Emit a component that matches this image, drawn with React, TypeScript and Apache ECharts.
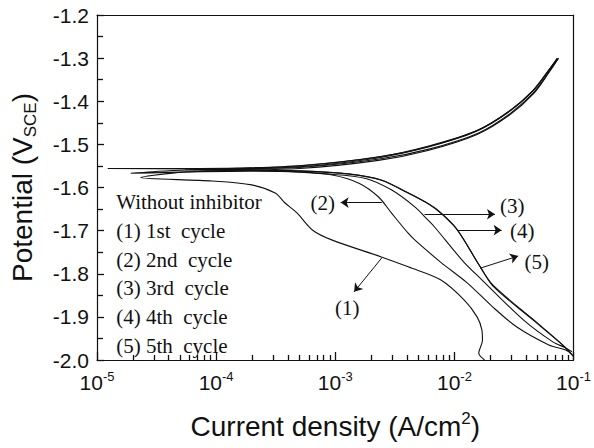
import React, { useEffect, useRef } from 'react';
import * as echarts from 'echarts';

type Pt = [number, number];

// Current density (A/cm2), potential (V vs SCE); cathodic branch from bottom-right up to Ecorr
const cathodic1: Pt[] = [
  [1.79e-2, -2.0], [1.6e-2, -1.984], [1.72e-2, -1.954], [1.7e-2, -1.93], [1.55e-2, -1.9],
  [1.21e-2, -1.861], [7.65e-3, -1.814], [4.09e-3, -1.784], [2.44e-3, -1.761], [9.44e-4, -1.722],
  [6.46e-4, -1.699], [4.77e-4, -1.659], [3.79e-4, -1.636], [3.13e-4, -1.613], [1.99e-4, -1.594],
  [9.27e-5, -1.585], [2.32e-5, -1.577],
];
const anodic1: Pt[] = [
  [2.32e-5, -1.577], [4.5e-5, -1.566], [1.0e-4, -1.561], [5.0e-4, -1.556], [2.3e-3, -1.537],
  [6.0e-3, -1.514], [1.55e-2, -1.477], [2.9e-2, -1.432], [4.6e-2, -1.383], [6.2e-2, -1.334], [7.4e-2, -1.302],
];
const cathodic2: Pt[] = [
  [9.8e-2, -1.988], [8.6e-2, -1.977], [6.2e-2, -1.965], [3.32e-2, -1.923], [2.06e-2, -1.875],
  [1.28e-2, -1.821], [7.65e-3, -1.773], [4.67e-3, -1.722], [4.09e-3, -1.706], [2.96e-3, -1.659],
  [2.31e-3, -1.622], [1.58e-3, -1.59], [9.44e-4, -1.571], [5.04e-4, -1.564], [1.95e-4, -1.562], [1.92e-5, -1.567],
];
const anodic2: Pt[] = [
  [1.92e-5, -1.567], [4.0e-5, -1.561], [1.0e-4, -1.558], [5.0e-4, -1.552], [2.2e-3, -1.532],
  [5.7e-3, -1.508], [1.5e-2, -1.471], [2.85e-2, -1.425], [4.55e-2, -1.376], [6.15e-2, -1.329], [7.3e-2, -1.3],
];
const cathodic3: Pt[] = [
  [9.7e-2, -1.981], [8.6e-2, -1.972], [6.7e-2, -1.958], [3.79e-2, -1.907], [1.7e-2, -1.814],
  [1.2e-2, -1.773], [6.79e-3, -1.691], [5.98e-3, -1.675], [4.65e-3, -1.645], [2.98e-3, -1.606],
  [1.8e-3, -1.579], [8.91e-4, -1.569], [1.95e-4, -1.559], [1.23e-5, -1.556],
];
const anodic3: Pt[] = [
  [1.23e-5, -1.556], [5.0e-5, -1.556], [1.5e-4, -1.555], [5.2e-4, -1.549], [2.4e-3, -1.528],
  [6.2e-3, -1.503], [1.6e-2, -1.466], [3.0e-2, -1.42], [4.7e-2, -1.372], [6.3e-2, -1.326], [7.5e-2, -1.3],
];
const cathodic4: Pt[] = [
  [9.9e-2, -1.991], [8.07e-2, -1.965], [4.56e-2, -1.907], [2.13e-2, -1.83], [1.65e-2, -1.784],
  [1.06e-2, -1.699], [7.71e-3, -1.66], [6.2e-3, -1.64], [4.09e-3, -1.613], [2.44e-3, -1.583],
  [1.31e-3, -1.569], [5.04e-4, -1.562], [5.5e-5, -1.559],
];
const anodic4: Pt[] = [
  [5.5e-5, -1.559], [1.2e-4, -1.557], [5.3e-4, -1.553], [2.35e-3, -1.534], [6.1e-3, -1.511],
  [1.58e-2, -1.474], [2.95e-2, -1.428], [4.65e-2, -1.379], [6.25e-2, -1.331], [7.4e-2, -1.302],
];
const cathodic5: Pt[] = [
  [9.5e-2, -1.985], [7.9e-2, -1.962], [4.45e-2, -1.903], [2.1e-2, -1.826], [1.62e-2, -1.781],
  [1.04e-2, -1.695], [7.6e-3, -1.657], [6.1e-3, -1.638], [4.0e-3, -1.611], [2.4e-3, -1.582],
  [1.28e-3, -1.568], [5.0e-4, -1.561], [6.5e-5, -1.558],
];
const anodic5: Pt[] = [
  [6.5e-5, -1.558], [1.4e-4, -1.556], [5.0e-4, -1.55], [2.25e-3, -1.53], [5.9e-3, -1.506],
  [1.52e-2, -1.469], [2.88e-2, -1.423], [4.6e-2, -1.374], [6.2e-2, -1.328], [7.35e-2, -1.301],
];

const SERIES_NAMES = ['1st cycle', '2nd cycle', '3rd cycle', '4th cycle', '5th cycle'];
const LEGEND_LINES = [
  'Without inhibitor',
  '(1) 1st \u00a0cycle',
  '(2) 2nd \u00a0cycle',
  '(3) 3rd \u00a0cycle',
  '(4) 4th \u00a0cycle',
  '(5) 5th \u00a0cycle',
];
const LEGEND_X = 1.45e-5;
const LEGEND_Y = [-1.633, -1.7, -1.768, -1.834, -1.901, -1.968];

// arrows: [fromX, fromY, toX, toY]
const ARROWS: [number, number, number, number][] = [
  [2.46e-3, -1.763, 1.44e-3, -1.842],
  [2.46e-3, -1.635, 1.11e-3, -1.635],
  [5.62e-3, -1.662, 2.19e-2, -1.662],
  [1.06e-2, -1.699, 2.49e-2, -1.699],
  [1.65e-2, -1.787, 3.43e-2, -1.759],
];
const ARROW_LABELS = ['(1)', '(2)', '(3)', '(4)', '(5)'];
const ARROW_LABEL_POS: Pt[] = [
  [1.26e-3, -1.88], [7.85e-4, -1.635], [3.06e-2, -1.643], [3.71e-2, -1.7], [4.92e-2, -1.773],
];

const X_MINOR_TICKS = [
  2e-5, 3e-5, 4e-5, 5e-5, 6e-5, 7e-5, 8e-5, 9e-5,
  2e-4, 3e-4, 4e-4, 5e-4, 6e-4, 7e-4, 8e-4, 9e-4,
  2e-3, 3e-3, 4e-3, 5e-3, 6e-3, 7e-3, 8e-3, 9e-3,
  2e-2, 3e-2, 4e-2, 5e-2, 6e-2, 7e-2, 8e-2, 9e-2,
];

const SANS = 'Liberation Sans';
const SERIF = 'Liberation Serif';
const INK = '#111';

export default function App() {
  const ref = useRef<HTMLDivElement>(null);
  useEffect(() => {
    if (!ref.current) return;
    const chart = echarts.init(ref.current, undefined, { renderer: 'svg' });
    const curves = [
      [cathodic1, anodic1], [cathodic2, anodic2], [cathodic3, anodic3], [cathodic4, anodic4], [cathodic5, anodic5],
    ];
    const series: any[] = curves.map(([c, a], i) => ({
      type: 'line',
      name: SERIES_NAMES[i],
      xAxisIndex: 0,
      yAxisIndex: 0,
      data: [...c, ...a.slice(1)],
      showSymbol: false,
      symbol: 'none',
      smooth: 0.3,
      lineStyle: { color: INK, width: 1.1 },
      emphasis: { disabled: true },
      silent: true,
    }));
    series[0].markLine = {
      silent: true,
      symbol: ['none', 'arrow'],
      symbolSize: 8,
      label: { show: false },
      lineStyle: { color: INK, width: 1, type: 'solid' },
      emphasis: { disabled: true },
      data: ARROWS.map(([x1, y1, x2, y2]) => [{ coord: [x1, y1] }, { coord: [x2, y2] }]),
    };
    const frameLine = () => ({ show: true, onZero: false, lineStyle: { color: INK, width: 1.2 } });
    const tickStyle = () => ({ color: INK, width: 1.3 });
    chart.setOption({
      animation: false,
      backgroundColor: '#fff',
      grid: { left: 94, top: 15, width: 484, height: 345, show: false },
      xAxis: [
        {
          type: 'log', logBase: 10, min: 1e-5, max: 1e-1, position: 'bottom',
          name: '{a|Current density (A/cm}{s|2}{a|)}',
          nameLocation: 'middle', nameGap: 50,
          nameTextStyle: {
            rich: {
              a: { fontSize: 28, fontFamily: SANS, color: INK, lineHeight: 32 },
              s: { fontSize: 17, fontFamily: SANS, color: INK, verticalAlign: 'top', lineHeight: 20 },
            },
          },
          axisLine: frameLine(),
          axisTick: { show: true, inside: true, length: 8, lineStyle: tickStyle() },
          splitLine: { show: false },
          axisLabel: {
            margin: 10,
            formatter: (v: number) => `{b|10}{s|${Math.round(Math.log10(v))}}`,
            rich: {
              b: { fontSize: 21, fontFamily: SANS, color: INK, lineHeight: 24 },
              s: { fontSize: 13, fontFamily: SANS, color: INK, verticalAlign: 'top', lineHeight: 14 },
            },
          },
        },
        {
          type: 'log', logBase: 10, min: 1e-5, max: 1e-1, position: 'bottom',
          axisLine: { show: false },
          axisLabel: { show: false },
          splitLine: { show: false },
          axisTick: { show: true, inside: true, length: 5, customValues: X_MINOR_TICKS, lineStyle: tickStyle() },
        },
        {
          type: 'log', logBase: 10, min: 1e-5, max: 1e-1, position: 'top',
          axisLine: frameLine(),
          axisLabel: { show: false },
          axisTick: { show: false },
          splitLine: { show: false },
        },
      ],
      yAxis: [
        {
          type: 'value', min: -2.0, max: -1.2, interval: 0.1, position: 'left',
          name: '{a|Potential (V}{s|SCE}{a|)}',
          nameLocation: 'middle', nameGap: 58,
          nameTextStyle: {
            rich: {
              a: { fontSize: 28, fontFamily: SANS, color: INK, lineHeight: 34 },
              s: { fontSize: 17, fontFamily: SANS, color: INK, verticalAlign: 'bottom', lineHeight: 22 },
            },
          },
          axisLine: frameLine(),
          axisTick: { show: true, inside: true, length: 7, lineStyle: tickStyle() },
          minorTick: { show: true, splitNumber: 2, length: 6, lineStyle: tickStyle() },
          splitLine: { show: false },
          axisLabel: {
            margin: 8, fontSize: 21, fontFamily: SANS, color: INK,
            formatter: (v: number) => v.toFixed(1),
          },
        },
        {
          type: 'value', min: -2.0, max: -1.2, interval: 0.1, position: 'right',
          axisLine: frameLine(),
          axisTick: { show: false },
          axisLabel: { show: false },
          splitLine: { show: false },
        },
      ],
      series,
    });

    const toPx = (p: Pt) => chart.convertToPixel({ xAxisIndex: 0, yAxisIndex: 0 }, p) as number[];
    const graphic: any[] = [];
    LEGEND_LINES.forEach((t, i) => {
      const [x, y] = toPx([LEGEND_X, LEGEND_Y[i]]);
      graphic.push({
        type: 'text', x, y, silent: true,
        style: { text: t, fontSize: 21, fontFamily: SERIF, fill: INK, align: 'left', verticalAlign: 'middle', textAlign: 'left', textVerticalAlign: 'middle' },
      });
    });
    ARROW_LABELS.forEach((t, i) => {
      const [x, y] = toPx(ARROW_LABEL_POS[i]);
      graphic.push({
        type: 'text', x, y, silent: true,
        style: { text: t, fontSize: 21, fontFamily: SERIF, fill: INK, align: 'center', verticalAlign: 'middle', textAlign: 'center', textVerticalAlign: 'middle' },
      });
    });
    chart.setOption({ graphic });

    return () => chart.dispose();
  }, []);
  return <div ref={ref} style={{ position: 'fixed', left: 0, top: 0, width: 594, height: 448, background: '#fff' }} />;
}
